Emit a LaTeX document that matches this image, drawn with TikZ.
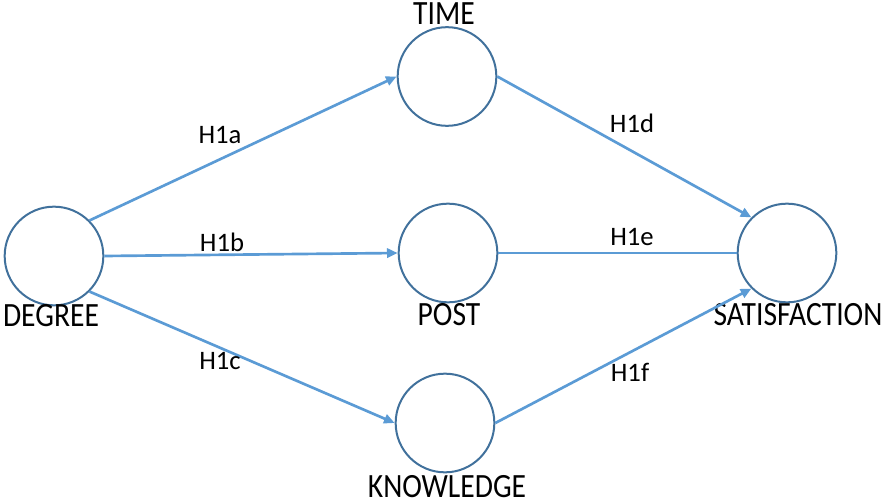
\documentclass[tikz,border=0pt]{standalone}
\usepackage{fontspec}
\setmainfont{Carlito}
\usetikzlibrary{arrows.meta}
\definecolor{ringblue}{HTML}{41719C}
\definecolor{pathblue}{HTML}{5B9BD5}
\begin{document}
\begin{tikzpicture}[x=0.75pt,y=-0.75pt,
  var/.style={circle,draw=ringblue,line width=1.5pt,minimum size=74pt,inner sep=0pt},
  varname/.style={xscale=0.87,inner sep=0pt,font=\fontsize{25.5}{28}\selectfont},
  hyp/.style={inner sep=0pt,font=\fontsize{20}{24}\selectfont},
  link/.style={pathblue,line width=2pt,-{Triangle[length=8pt,width=7pt]}}]
\useasboundingbox (0,0) rectangle (885,503);
% the five variables
\node[var] (degree) at (54,256) {};
\node[var] (time) at (447,76.5) {};
\node[var] (post) at (448,253) {};
\node[var] (knowledge) at (445,423) {};
\node[var] (satisf) at (787,253) {};
\node[varname] (degree-txt) at (51,316) {DEGREE};
\node[varname] (time-txt) at (444,14) {TIME};
\node[varname] (post-txt) at (449,315) {POST};
\node[varname] (knowledge-txt) at (447,486.5) {KNOWLEDGE};
\node[varname] (satisf-txt) at (798,315) {SATISFACTION};
% hypothesised paths
\foreach \a/\b in {degree.north east/time.west, degree.east/post.west,
    degree.south east/knowledge.west, time.east/satisf.north west,
    knowledge.east/satisf.south west}
  \draw[link] (\a) -- (\b);
\draw[pathblue,line width=2pt] (post.east) -- (satisf.west);
\foreach \h/\x/\y in {a/220/135, b/222/242, c/220/361, d/632/123, e/632/237, f/630/372}
  \node[hyp] (h1\h) at (\x,\y) {H1\h};
\end{tikzpicture}
\end{document}
